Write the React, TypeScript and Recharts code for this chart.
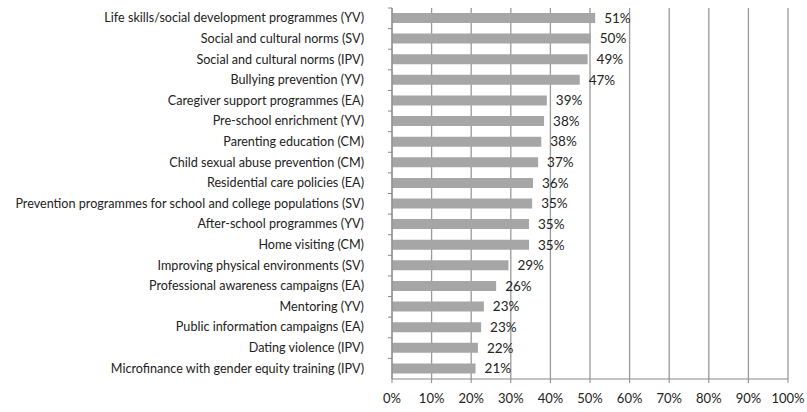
import React from "react";
import { BarChart, Bar, XAxis, YAxis, CartesianGrid, LabelList } from "recharts";

const categories = [
  "Life skills/social development programmes (YV)",
  "Social and cultural norms (SV)",
  "Social and cultural norms (IPV)",
  "Bullying prevention (YV)",
  "Caregiver support programmes (EA)",
  "Pre-school enrichment (YV)",
  "Parenting education (CM)",
  "Child sexual abuse prevention (CM)",
  "Residential care policies (EA)",
  "Prevention programmes for school and college populations (SV)",
  "After-school programmes (YV)",
  "Home visiting (CM)",
  "Improving physical environments (SV)",
  "Professional awareness campaigns (EA)",
  "Mentoring (YV)",
  "Public information campaigns (EA)",
  "Dating violence (IPV)",
  "Microfinance with gender equity training (IPV)",
];

const shares = [
  51.3, 50.2, 49.4, 47.4, 39.1, 38.4, 37.7, 36.9, 35.6, 35.4, 34.6, 34.6, 29.4,
  26.3, 23.2, 22.5, 21.7, 21.1,
];

const xTicks = [0, 10, 20, 30, 40, 50, 60, 70, 80, 90, 100];

const data = categories.map((name, i) => ({ name, value: shares[i] }));

const W = 807;
const H = 412;
const TOP = 8;
const XAXIS_H = 33;
const AXIS_X = 392;
const BAND = (H - TOP - XAXIS_H) / categories.length;
const FONT = "Lato, 'Open Sans', sans-serif";

const CategoryTick = (props: any) => {
  const { y, payload } = props;
  return (
    <g>
      <line x1={AXIS_X - 4} x2={AXIS_X} y1={y - BAND / 2} y2={y - BAND / 2} stroke="#888" />
      <text
        x={AXIS_X - 28}
        y={y}
        dy={4}
        textAnchor="end"
        fontSize={12.6}
        fontFamily={FONT}
        fill="#222"
      >
        {payload.value}
      </text>
    </g>
  );
};

export default function App() {
  return (
    <>
      <style>{`body{margin:0;overflow:hidden}`}</style>
      <BarChart
        width={W}
        height={H}
        data={data}
        layout="vertical"
        margin={{ top: TOP, right: 19, left: 0, bottom: 0 }}
      >
        <CartesianGrid horizontal={false} stroke="#9a9a9a" strokeWidth={1.3} />
        <XAxis
          type="number"
          domain={[0, 100]}
          ticks={xTicks}
          interval={0}
          height={XAXIS_H}
          tickFormatter={(v) => `${v}%`}
          stroke="#888"
          tickSize={4}
          tickMargin={11}
          tick={{ fontSize: 13, fontFamily: FONT, fill: "#222" }}
        />
        <YAxis
          type="category"
          dataKey="name"
          width={AXIS_X}
          interval={0}
          stroke="#888"
          tickLine={false}
          tick={<CategoryTick />}
        />
        <Bar dataKey="value" fill="#a6a6a6" barSize={10} isAnimationActive={false}>
          <LabelList
            dataKey="value"
            position="right"
            offset={9}
            formatter={(v: any) => `${Math.round(v)}%`}
            style={{ fontSize: 13.5, fontFamily: FONT, fill: "#222" }}
          />
        </Bar>
      </BarChart>
    </>
  );
}
